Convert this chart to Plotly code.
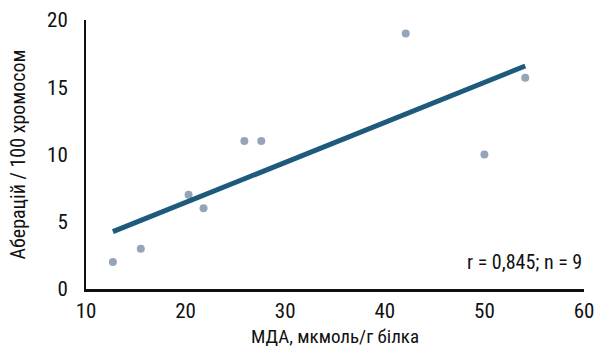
import numpy as np
import plotly.graph_objects as go

# Data
mda = [12.7, 15.5, 20.3, 21.8, 25.9, 27.6, 42.1, 50.0, 54.1]
aberrations = [2.0, 3.0, 7.0, 6.0, 11.0, 11.0, 19.0, 10.0, 15.7]
x_ticks = [10, 20, 30, 40, 50, 60]
y_ticks = [0, 5, 10, 15, 20]
annotation_text = "r = 0,845; n = 9"

FONT = "Liberation Sans Narrow, Arial Narrow, Roboto Condensed, DejaVu Sans Condensed, sans-serif"

slope, intercept = np.polyfit(mda, aberrations, 1)
fit_x = [min(mda), max(mda)]
fit_y = [slope * v + intercept for v in fit_x]

fig = go.Figure()
fig.add_trace(go.Scatter(
    x=mda, y=aberrations, mode="markers",
    marker=dict(size=8, color="#95a5b9"),
    showlegend=False,
))
fig.add_trace(go.Scatter(
    x=fit_x, y=fit_y, mode="lines",
    line=dict(color="#1d5a7c", width=5),
    showlegend=False,
))

fig.add_annotation(
    x=1, y=0.1, xref="paper", yref="paper",
    text=annotation_text, showarrow=False,
    xanchor="right", yanchor="middle",
    font=dict(family=FONT, size=20, color="#111111"),
)

fig.update_layout(
    width=596, height=352,
    margin=dict(l=86, r=12, t=20, b=63),
    paper_bgcolor="white", plot_bgcolor="white",
    font=dict(family=FONT, color="#111111"),
    xaxis=dict(
        range=[10, 60], tickvals=x_ticks, showgrid=False, zeroline=False,
        showline=True, linecolor="#111111", linewidth=3, automargin=False,
        ticks="", tickfont=dict(size=21, family=FONT), ticklabelstandoff=1,
        title=dict(text="МДА, мкмоль/г білка", font=dict(size=19, family=FONT), standoff=8),
    ),
    yaxis=dict(
        range=[0, 20], tickvals=y_ticks, showgrid=False, zeroline=False,
        showline=True, linecolor="#111111", linewidth=2, automargin=False,
        ticks="", tickfont=dict(size=21, family=FONT), ticklabelstandoff=12,
        title=dict(text="Аберацій / 100 хромосом", font=dict(size=20, family=FONT), standoff=16),
    ),
)

fig.write_html("out.html")
